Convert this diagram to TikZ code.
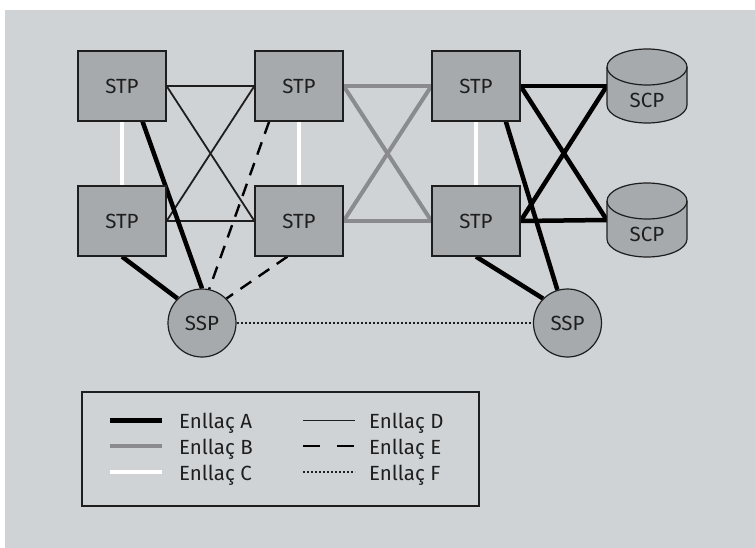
\documentclass[tikz,border=0pt]{standalone}
\usepackage{fontspec}
\setmainfont{Fira Sans}
\usetikzlibrary{calc}
\pgfdeclarelayer{bg}
\pgfdeclarelayer{edges}
\pgfsetlayers{bg,edges,main}
\definecolor{panel}{RGB}{208,211,214}
\definecolor{nodefill}{RGB}{167,170,173}
\definecolor{linkgray}{RGB}{138,139,142}
\definecolor{ink}{RGB}{30,30,30}
\begin{document}
\begin{tikzpicture}[x=1pt,y=-1pt, font=\fontsize{20.5}{24}\selectfont,
  stp/.style={draw=ink, line width=1.2pt, fill=nodefill, minimum width=88pt, minimum height=70pt, inner sep=0pt, text=ink},
  ssp/.style={circle, draw=ink, line width=1.2pt, fill=nodefill, minimum size=68pt, inner sep=0pt, text=ink},
  linkA/.style={line width=4.5pt, black},
  linkB/.style={line width=4pt, linkgray},
  linkC/.style={line width=4pt, white},
  linkD/.style={line width=1.8pt, ink},
  linkE/.style={line width=2.4pt, black, dash pattern=on 13pt off 9pt},
  linkF/.style={line width=2pt, ink, dash pattern=on 2pt off 2pt},
  lab/.style={anchor=base west, inner sep=0pt, text=ink},
  cyl/.style={fill=nodefill, draw=ink, line width=1.2pt}]
\useasboundingbox (0,0) rectangle (755,548);
\begin{pgfonlayer}{bg}
  \fill[white] (0,0) rectangle (755,548);
  \fill[panel] (5,10) rectangle (755,548);
\end{pgfonlayer}

% STP nodes
\node[stp] (stp1) at (122,86) {STP};
\node[stp] (stp2) at (299,86) {STP};
\node[stp] (stp3) at (476,86) {STP};
\node[stp] (stp5) at (122,221) {STP};
\node[stp] (stp6) at (299,221) {STP};
\node[stp] (stp7) at (476,221) {STP};

% SCP cylinders
\foreach \n/\cy in {scp1/86, scp2/220} {
  \filldraw[cyl] (607,\cy-19) -- (607,\cy+19)
     arc[start angle=180, end angle=360, x radius=40pt, y radius=18pt]
     -- (687,\cy-19)
     arc[start angle=0, end angle=180, x radius=40pt, y radius=18pt] -- cycle;
  \draw[ink, line width=1.2pt] (607,\cy-19)
     arc[start angle=180, end angle=360, x radius=40pt, y radius=18pt];
  \node[minimum width=80pt, minimum height=74pt, inner sep=0pt] (\n) at (647,\cy) {};
  \node[text=ink, inner sep=0pt] (\n t) at (647,\cy+14) {SCP};
}

% SSP nodes
\node[ssp] (ssp1) at (202,323) {SSP};
\node[ssp] (ssp2) at (567.5,323) {SSP};

\begin{pgfonlayer}{edges}
  % Enllac C
  \draw[linkC] (stp1.south) -- (stp5.north);
  \draw[linkC] (stp2.south) -- (stp6.north);
  \draw[linkC] (stp3.south) -- (stp7.north);
  % Enllac D
  \draw[linkD] (stp1.east) -- (stp2.west);
  \draw[linkD] (stp1.east) -- (stp6.west);
  \draw[linkD] (stp5.east) -- (stp2.west);
  \draw[linkD] (stp5.east) -- (stp6.west);
  % Enllac B
  \draw[linkB] (stp2.east) -- (stp3.west);
  \draw[linkB] (stp2.east) -- (stp7.west);
  \draw[linkB] (stp6.east) -- (stp3.west);
  \draw[linkB] (stp6.east) -- (stp7.west);
  % Enllac A
  \draw[linkA] (stp3.east) -- (scp1.west);
  \draw[linkA] (stp3.east) -- (scp2.west);
  \draw[linkA] (stp7.east) -- (scp1.west);
  \draw[linkA] (stp7.east) -- (scp2.west);
  \draw[linkA] (stp1.300) -- (ssp1.north);
  \draw[linkA] (stp5.south) -- (ssp1.135);
  \draw[linkA] (stp7.south) -- (ssp2.135);
  \draw[linkA] (stp3.310) -- (ssp2.107);
  % Enllac E
  \draw[linkE] (stp2.230) -- (ssp1.78);
  \draw[linkE] (stp6.252) -- (ssp1.45);
  % Enllac F
  \draw[linkF] (ssp1.east) -- (ssp2.west);
\end{pgfonlayer}

% Legend
\node[draw=ink, line width=1.3pt, minimum width=397pt, minimum height=114pt, inner sep=0pt] (legend) at (280.5,449) {};
\draw[linkA] (110,420.5) -- (162,420.5);
\draw[linkB] (110,446) -- (162,446);
\draw[linkC] (110,472) -- (162,472);
\draw[linkD] (303,420.5) -- (355,420.5);
\draw[line width=2.4pt, black, dash pattern=on 17pt off 17pt] (303,446) -- (355,446);
\draw[linkF] (303,472) -- (355,472);
\node[lab] (la) at (179,428) {Enllaç A};
\node[lab] (lb) at (179,454) {Enllaç B};
\node[lab] (lc) at (179,480) {Enllaç C};
\node[lab] (ld) at (369,428) {Enllaç D};
\node[lab] (le) at (369,454) {Enllaç E};
\node[lab] (lf) at (369,480) {Enllaç F};
\end{tikzpicture}
\end{document}
